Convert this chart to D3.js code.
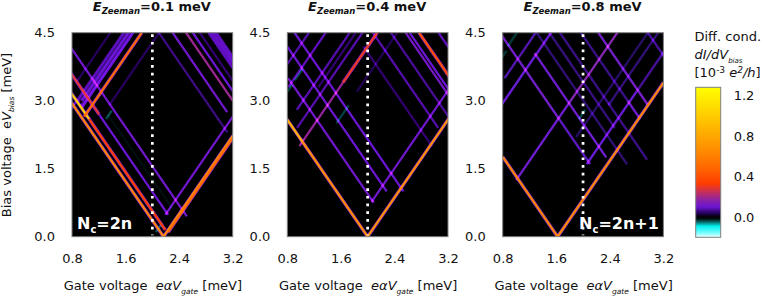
<!DOCTYPE html>
<html>
<head>
<meta charset="utf-8">
<script src="https://cdn.jsdelivr.net/npm/d3@7"></script>
<style>
  html, body { margin: 0; padding: 0; background: #fff; }
  svg { display: block; }
  text { font-family: "DejaVu Sans", sans-serif; fill: #111; }
</style>
</head>
<body>
<div id="chart"></div>
<script>
// gate voltage / bias voltage axes
const gateTicks = [0.8, 1.6, 2.4, 3.2];
const biasTicks = [0.0, 1.5, 3.0, 4.5];
const condTicks = [0.0, 0.4, 0.8, 1.2];
const gateRange = [0.8, 3.2];
const biasRange = [0, 4.5];
const condRange = [-0.2, 1.283];

// all resonances run along bias = +-lever * (gate - g0)
const lever = 2.15;

// colour map of the conductance
const colorValues = [-0.2, -0.16, -0.09, -0.05, -0.02, 0, 0.03, 0.1, 0.17, 0.25, 0.33, 0.5, 0.7, 1.0, 1.283];
const colorNames = ["#f0ffff", "#80ffff", "#00f0f0", "#0a6a6a", "#001414", "#000000", "#1c0048", "#6a14d2", "#8c22a4", "#c83058", "#ff3c00", "#ff6a00", "#ff9400", "#ffcc00", "#ffff00"];

const titles = ["0.1", "0.4", "0.8"];
const parityLabels = ["2n", null, "2n+1"];
const dottedGate = 2.0;
const backgroundCond = [0, 0, -0.006];

// each row: g0, lowest bias, highest bias, conductance
const falling01 = [
  [2.167, 0, 3.2, 0.62],
  [2.263, 0.15, 2.6, 0.34],
  [2.263, 2.6, 3.3, 1.0],
  [2.46, 0.48, 2.7, 0.1],
  [2.46, 2.7, 3.7, 0.28],
  [2.724, 0.45, 4.3, 0.11],
  [2.589, 0.6, 2.7, -0.015],
  [4.19, 2.3, 4.5, 0.06],
  [4.396, 2.75, 4.5, 0.11],
  [4.596, 3.0, 4.5, 0.19],
  [4.696, 3.1, 4.5, 0.1],
  [4.8, 3.4, 4.5, 0.05],
  [4.93, 3.5, 4.5, 0.09],
  [4.97, 3.5, 4.5, 0.09],
  [5.01, 3.5, 4.5, 0.09],
  [5.05, 3.5, 4.5, 0.09]
];
const rising01 = [
  [2.167, 0, 2.3, 0.66],
  [2.19, 0.1, 2.2, 0.5],
  [1.97, 0.48, 2.75, 0.11],
  [-0.25, 2.65, 4.5, 0.5],
  [-0.375, 2.85, 4.5, 0.1],
  [-0.41, 2.9, 4.5, 0.07],
  [-0.45, 3.0, 4.5, 0.1],
  [-0.49, 2.95, 4.5, 0.06],
  [-0.525, 2.7, 4.5, 0.08],
  [-0.72, 3.4, 4.5, 0.04],
  [0.007, 2.9, 4.5, 0.04],
  [0.1, 2.6, 2.78, -0.04],
  [2.007, 0.1, 0.3, -0.04]
];

const falling04 = [
  [2.0, 0, 2.1, 0.66],
  [2.0, 2.1, 2.7, 0.85],
  [2.44, 0.75, 3.5, 0.11],
  [2.75, 1.0, 4.2, 0.1],
  [3.0, 1.0, 4.5, 0.1],
  [3.89, 2.0, 4.2, 0.05],
  [4.17, 2.4, 4.5, 0.08],
  [4.44, 2.6, 4.5, 0.07],
  [4.66, 3.0, 4.5, 0.12],
  [4.72, 3.1, 4.5, 0.1],
  [4.86, 3.5, 4.5, 0.4],
  [5.15, 4.0, 4.5, 0.09]
];
const rising04 = [
  [2.0, 0, 2.7, 0.68],
  [1.7, 0.77, 3.3, 0.11],
  [0.05, 2.0, 3.4, 0.18],
  [0.05, 3.4, 4.5, 0.3],
  [-0.17, 2.4, 4.5, 0.08],
  [-0.72, 3.3, 4.5, 0.09],
  [-0.36, 2.8, 4.5, 0.08],
  [-0.27, 3.3, 4.5, 0.05],
  [0.35, 3.2, 4.5, 0.035],
  [-0.97, 3.7, 4.5, 0.08],
  [-1.3, 4.2, 4.5, 0.08],
  [-0.69, 3.45, 3.7, -0.035],
  [-0.685, 3.15, 3.35, -0.035],
  [0.37, 2.5, 2.9, -0.035]
];

const falling08 = [
  [1.62, 0, 1.76, 0.62],
  [2.85, 2.6, 4.5, 0.12],
  [2.85, 1.6, 2.6, 0.09],
  [3.16, 1.75, 4.05, 0.11],
  [3.4, 1.6, 4.5, 0.05],
  [3.59, 2.4, 4.5, 0.055],
  [3.747, 1.7, 4.5, 0.06],
  [4.06, 2.6, 3.0, 0.11],
  [4.06, 3.0, 4.5, 0.06],
  [4.32, 2.9, 4.5, 0.12],
  [5.06, 3.6, 4.5, 0.07],
  [5.3, 4.4, 4.5, 0.3]
];
const rising08 = [
  [1.62, 0, 3.4, 0.64],
  [0.42, 1.25, 3.0, 0.11],
  [0.42, 3.0, 4.5, 0.16],
  [1.31, 1.6, 3.2, 0.1],
  [1.31, 3.2, 4.2, 0.07],
  [-0.57, 2.9, 4.5, 0.1],
  [-0.8, 3.5, 4.5, 0.08],
  [1.03, 2.9, 4.5, 0.05],
  [0.875, 2.2, 4.5, 0.04],
  [-1.08, 4.2, 4.5, -0.03],
  [-1.05, 3.9, 4.1, -0.03],
  [0.73, 2.6, 2.8, -0.035]
];

const fallingLines = [falling01, falling04, falling08];
const risingLines = [rising01, rising04, rising08];

const width = 763, height = 296;
const panelLefts = [72, 287.3, 502.7];
const panelW = 160.7, plotTop = 32.7, plotBottom = 236.7;

const svg = d3.select("#chart").append("svg")
  .attr("width", width)
  .attr("height", height);

const defs = svg.append("defs");
defs.append("filter")
  .attr("id", "soft")
  .attr("x", "-5%").attr("y", "-5%").attr("width", "110%").attr("height", "110%")
  .append("feGaussianBlur").attr("stdDeviation", 0.55);

const color = d3.scaleLinear().domain(colorValues).range(colorNames).clamp(true);
const y = d3.scaleLinear().domain(biasRange).range([plotBottom, plotTop]);

function subText(sel, parts, size, subSize) {
  // parts: [string, "sub"|"", italic]
  let pendingUp = 0;
  parts.forEach(p => {
    let t = sel.append("tspan").text(p[0]);
    if (p[2]) t.style("font-style", "italic");
    if (p[1] === "sub") {
      t.attr("dy", size * 0.28).style("font-size", subSize + "px");
      pendingUp = -size * 0.28;
    } else {
      t.attr("dy", pendingUp);
      pendingUp = 0;
    }
  });
}

titles.forEach((title, i) => {
  let x = d3.scaleLinear().domain(gateRange).range([panelLefts[i], panelLefts[i] + panelW]);
  let g = svg.append("g");

  defs.append("clipPath").attr("id", "clip" + i)
    .append("rect")
    .attr("x", x(gateRange[0])).attr("y", y(biasRange[1]))
    .attr("width", panelW).attr("height", plotBottom - plotTop);

  let plot = g.append("g").attr("clip-path", "url(#clip" + i + ")")
    .append("g").attr("filter", "url(#soft)")
    .style("isolation", "isolate");

  plot.append("rect")
    .attr("x", x(gateRange[0]) - 4).attr("y", y(biasRange[1]) - 4)
    .attr("width", panelW + 8).attr("height", plotBottom - plotTop + 8)
    .attr("fill", color(backgroundCond[i]));

  // falling lines have bias = lever*(g0-gate), rising ones bias = lever*(gate-g0)
  let rows = fallingLines[i].map(r => ({dir: -1, row: r}))
    .concat(risingLines[i].map(r => ({dir: 1, row: r})));

  let drawLines = (cls, data, stroke, strokeWidth, blend) => plot.selectAll("line." + cls)
    .data(data)
    .enter().append("line")
    .attr("class", cls)
    .attr("x1", d => x(d.row[0] + d.dir * d.row[1] / lever))
    .attr("y1", d => y(d.row[1]))
    .attr("x2", d => x(d.row[0] + d.dir * d.row[2] / lever))
    .attr("y2", d => y(d.row[2]))
    .attr("stroke", stroke)
    .attr("stroke-width", strokeWidth)
    .style("mix-blend-mode", blend);

  // the strong peaks fall off through purple, so they get a fringe
  drawLines("fringe", rows.filter(d => d.row[3] > 0.25), color(0.11), 3.4, "plus-lighter");
  drawLines("res", rows.filter(d => d.row[3] <= 0.25), d => color(d.row[3]), 2.3, "plus-lighter");
  drawLines("peak", rows.filter(d => d.row[3] > 0.25), d => color(d.row[3]), 2.3, "normal");

  // frame
  g.append("rect")
    .attr("x", x(gateRange[0])).attr("y", y(biasRange[1]))
    .attr("width", panelW).attr("height", plotBottom - plotTop)
    .attr("fill", "none").attr("stroke", "#808080").attr("stroke-width", 1);

  // dotted marker
  g.append("line")
    .attr("x1", x(dottedGate)).attr("x2", x(dottedGate))
    .attr("y1", y(biasRange[1]) + 1.5).attr("y2", y(0) - 1.5)
    .attr("stroke", "#fff").attr("stroke-width", 2.7)
    .attr("stroke-dasharray", "2.7 5");

  // axes
  let xAxis = g.append("g").attr("transform", "translate(0," + plotBottom + ")")
    .call(d3.axisBottom(x).tickValues(gateTicks).tickFormat(d3.format(".1f")).tickSize(0).tickPadding(17));
  let yAxis = g.append("g").attr("transform", "translate(" + panelLefts[i] + ",0)")
    .call(d3.axisLeft(y).tickValues(biasTicks).tickFormat(d3.format(".1f")).tickSize(0).tickPadding(17));
  [xAxis, yAxis].forEach(a => {
    a.select(".domain").remove();
    a.selectAll("text").style("font-family", '"DejaVu Sans"').style("font-size", "13px").attr("fill", "#111");
  });

  // panel title
  let cx = panelLefts[i] + panelW / 2;
  let tt = g.append("text").attr("x", cx - 0.5).attr("y", 10.5)
    .attr("text-anchor", "middle")
    .style("font-size", "13px").style("font-weight", "bold");
  subText(tt, [["E", "", true], ["Zeeman", "sub", true], ["=" + title + " meV", "", false]], 13, 8.5);

  // x label
  let xl = g.append("text").attr("x", cx + 0.5).attr("y", 290)
    .attr("text-anchor", "middle").style("font-size", "13px").style("white-space", "pre");
  subText(xl, [["Gate voltage  ", "", false], ["e\u03b1V", "", true], ["gate", "sub", true], [" [meV]", "", false]], 13, 7.5);

  // parity label
  if (parityLabels[i]) {
    let anchorX = i === 0 ? panelLefts[i] + 5 : panelLefts[i] + panelW - 4.5;
    let pl = g.append("text").attr("x", anchorX).attr("y", 229)
      .attr("text-anchor", i === 0 ? "start" : "end")
      .style("font-size", "16px").style("font-weight", "bold");
    subText(pl, [["N", "", false], ["c", "sub", false], ["=" + parityLabels[i], "", false]], 16, 10);
    pl.selectAll("tspan").style("fill", "#fff");
  }
});

// y label
let yl = svg.append("text")
  .attr("transform", "translate(10.5,135) rotate(-90)")
  .attr("text-anchor", "middle").style("font-size", "13px").style("white-space", "pre");
subText(yl, [["Bias voltage  e", "", false], ["V", "", true], ["bias", "sub", true], [" [meV]", "", false]], 13, 7.5);

// colour bar
const barX = 695.7, barW = 25, barTop = 87.3, barBottom = 237.3;
const barY = d3.scaleLinear().domain(condRange).range([barBottom, barTop]);
let grad = defs.append("linearGradient").attr("id", "barGrad")
  .attr("x1", 0).attr("y1", 1).attr("x2", 0).attr("y2", 0);
colorValues.forEach((v, k) => {
  grad.append("stop")
    .attr("offset", (v - condRange[0]) / (condRange[1] - condRange[0]))
    .attr("stop-color", colorNames[k]);
});
svg.append("rect")
  .attr("x", barX).attr("y", barTop).attr("width", barW).attr("height", barBottom - barTop)
  .attr("fill", "url(#barGrad)").attr("stroke", "#808080");
let barAxis = svg.append("g").attr("transform", "translate(" + (barX + barW) + ",0)")
  .call(d3.axisRight(barY).tickValues(condTicks).tickFormat(d3.format(".1f")).tickSize(0).tickPadding(13));
barAxis.select(".domain").remove();
barAxis.selectAll("text").style("font-family", '"DejaVu Sans"').style("font-size", "13px").attr("fill", "#111");

// colour bar title
svg.append("text").attr("x", 694.5).attr("y", 41).style("font-size", "13px").text("Diff. cond.");
let l2 = svg.append("text").attr("x", 694.5).attr("y", 59).style("font-size", "13px");
subText(l2, [["dI/dV", "", true], ["bias", "sub", true]], 13, 7);
let l3 = svg.append("text").attr("x", 694.5).attr("y", 77).style("font-size", "13px");
l3.append("tspan").text("[10");
l3.append("tspan").attr("dy", -4).style("font-size", "9px").text("-3");
l3.append("tspan").attr("dy", 4).text(" ");
l3.append("tspan").style("font-style", "italic").text("e");
l3.append("tspan").attr("dy", -4).style("font-size", "9px").style("font-style", "italic").text("2");
l3.append("tspan").attr("dy", 4).style("font-style", "italic").text("/h");
l3.append("tspan").text("]");
</script>
</body>
</html>
